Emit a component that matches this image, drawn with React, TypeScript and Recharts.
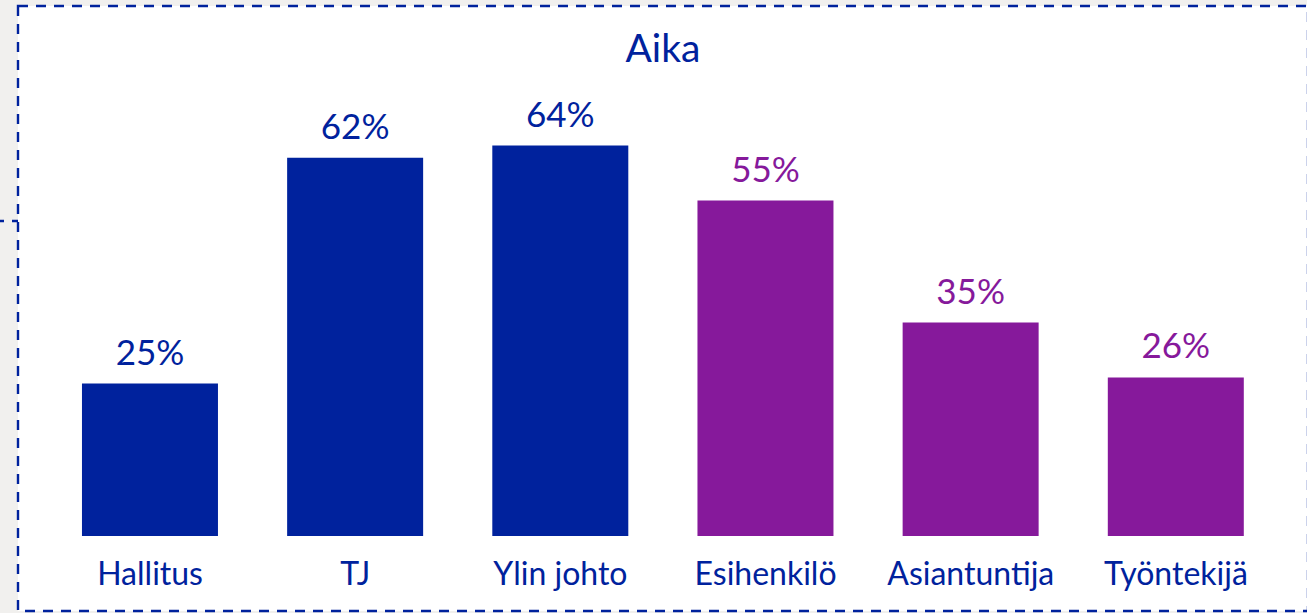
import { BarChart, Bar, XAxis, YAxis, Cell, LabelList } from "recharts";

const categories = ["Hallitus", "TJ", "Ylin johto", "Esihenkilö", "Asiantuntija", "Työntekijä"];
const values = [25, 62, 64, 55, 35, 26];
const groups = ["johto", "johto", "johto", "henkilöstö", "henkilöstö", "henkilöstö"];

const BLUE = "#00229d";
const PURPLE = "#86199b";
const FONT = "Lato, 'Noto Sans', sans-serif";

const data = categories.map((name, i) => ({ name, value: values[i], group: groups[i] }));
const colorOf = (g: string) => (g === "johto" ? BLUE : PURPLE);

function CategoryTick({ x, y, payload }: any) {
  return (
    <text x={x} y={y + 41} textAnchor="middle" fill={BLUE} fontSize={32} fontFamily={FONT}>
      {payload.value}
    </text>
  );
}

function ValueLabel({ x, y, width, value, index }: any) {
  return (
    <text x={x + width / 2} y={y - 19} textAnchor="middle" fill={colorOf(groups[index])} fontSize={35} fontFamily={FONT}>
      {value}%
    </text>
  );
}

export default function App() {
  return (
    <div style={{ position: "fixed", left: 0, top: 0, width: 1307, height: 613, background: "#f1f0ee", overflow: "hidden" }}>
      <svg width={1307} height={613} style={{ position: "absolute", left: 0, top: 0 }}>
        <rect x={18} y={6} width={1290} height={605} fill="#ffffff" stroke={BLUE} strokeWidth={2.4} strokeDasharray="10 8" />
        <line x1={-4} y1={221} x2={18} y2={221} stroke={BLUE} strokeWidth={2.4} strokeDasharray="8 8" />
        <text x={663} y={62} textAnchor="middle" fill={BLUE} fontSize={39} fontFamily={FONT}>
          Aika
        </text>
      </svg>
      <div style={{ position: "absolute", left: 0, top: 0 }}>
        <BarChart width={1307} height={613} data={data} margin={{ top: 48, right: 28.5, bottom: 0, left: 47.5 }} barCategoryGap="16.8%">
          <XAxis dataKey="name" height={77} axisLine={false} tickLine={false} interval={0} tick={<CategoryTick />} />
          <YAxis hide domain={[0, 80]} />
          <Bar dataKey="value" isAnimationActive={false}>
            {data.map((d, i) => (
              <Cell key={i} fill={colorOf(d.group)} />
            ))}
            <LabelList dataKey="value" content={<ValueLabel />} />
          </Bar>
        </BarChart>
      </div>
    </div>
  );
}
